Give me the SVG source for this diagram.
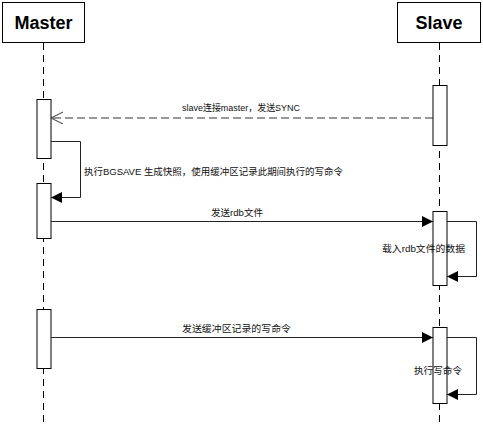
<svg xmlns="http://www.w3.org/2000/svg" width="483" height="427" viewBox="0 0 483 427">
<style>
.hdr{fill:#fff;stroke:#000;stroke-width:1}
.hdrt{font-family:"Liberation Sans","Noto Sans CJK SC",sans-serif;font-weight:bold;font-size:18px;fill:#000;text-anchor:middle}
.life{stroke:#000;stroke-width:1;stroke-dasharray:7 5;fill:none}
.act{fill:#fff;stroke:#000;stroke-width:1}
.msg{stroke:#222;stroke-width:1;fill:none}
.ret{stroke:#333;stroke-width:1;fill:none;stroke-dasharray:8 4}
.lbl{font-family:"Liberation Sans","Noto Sans CJK SC",sans-serif;font-size:9.5px;fill:#111}
</style>
<defs>
<marker id="fill" markerWidth="12" markerHeight="12" refX="11" refY="5.5" orient="auto" markerUnits="userSpaceOnUse">
<path d="M0,0 L11,5.5 L0,11 Z" fill="#000"/>
</marker>
<marker id="open" markerWidth="14" markerHeight="14" refX="12" refY="6" orient="auto" markerUnits="userSpaceOnUse">
<path d="M0,0 L12,6 L0,12" fill="none" stroke="#333" stroke-width="1"/>
</marker>
</defs>
<g id="lifelines">
<line class="life" x1="43.5" y1="43" x2="43.5" y2="427"/>
<line class="life" x1="439.5" y1="43" x2="439.5" y2="427"/>
</g>
<g id="master">
<rect class="hdr" x="2.5" y="2.5" width="82" height="40"/>
<text class="hdrt" x="43.5" y="29">Master</text>
</g>
<g id="slave">
<rect class="hdr" x="397.5" y="2.5" width="83" height="40"/>
<text class="hdrt" x="439" y="29">Slave</text>
</g>
<g id="activations">
<rect class="act" x="37" y="99.5" width="14" height="59"/>
<rect class="act" x="37" y="183.5" width="14" height="55"/>
<rect class="act" x="37" y="309.5" width="14" height="59"/>
<rect class="act" x="433" y="85.5" width="14" height="60"/>
<rect class="act" x="433" y="211.5" width="14" height="74"/>
<rect class="act" x="433" y="327.5" width="14" height="76"/>
</g>
<g id="connectors">
<line class="ret" x1="433" y1="118" x2="51" y2="118" marker-end="url(#open)"/>
<polyline class="msg" points="51,141.5 80.5,141.5 80.5,197.5 51,197.5" marker-end="url(#fill)"/>
<line class="msg" x1="51" y1="221.5" x2="433" y2="221.5" marker-end="url(#fill)"/>
<polyline class="msg" points="447,221.5 476.5,221.5 476.5,276.5 447,276.5" marker-end="url(#fill)"/>
<line class="msg" x1="51" y1="337.5" x2="433" y2="337.5" marker-end="url(#fill)"/>
<polyline class="msg" points="447,337.5 476.5,337.5 476.5,394.5 447,394.5" marker-end="url(#fill)"/>
</g>
<g id="labels">
<text class="lbl" x="182" y="111" textLength="118" lengthAdjust="spacingAndGlyphs">slave连接master，发送SYNC</text>
<text class="lbl" x="84" y="175" textLength="259" lengthAdjust="spacingAndGlyphs">执行BGSAVE 生成快照，使用缓冲区记录此期间执行的写命令</text>
<text class="lbl" x="211" y="216" textLength="52" lengthAdjust="spacingAndGlyphs">发送rdb文件</text>
<text class="lbl" x="382" y="251.5" textLength="83" lengthAdjust="spacingAndGlyphs">载入rdb文件的数据</text>
<text class="lbl" x="182" y="332" textLength="109" lengthAdjust="spacingAndGlyphs">发送缓冲区记录的写命令</text>
<text class="lbl" x="414" y="373.5" textLength="48" lengthAdjust="spacingAndGlyphs">执行写命令</text>
</g>
</svg>
